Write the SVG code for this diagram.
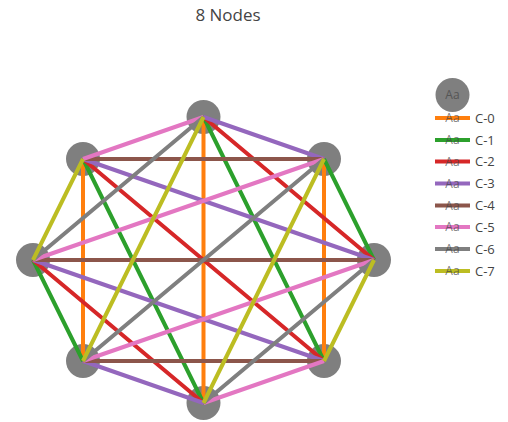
<svg xmlns="http://www.w3.org/2000/svg" width="508" height="422" viewBox="0 0 508 422">
<style>
.e{stroke-width:4;fill:none;stroke-linecap:butt}
.c0{stroke:#ff7f0e}.c1{stroke:#2ca02c}.c2{stroke:#d62728}.c3{stroke:#9467bd}
.c4{stroke:#8c564b}.c5{stroke:#e377c2}.c6{stroke:#7f7f7f}.c7{stroke:#bcbd22}
.n{fill:#7f7f7f}
.t{font-family:"Open Sans","Liberation Sans",sans-serif;fill:#444}
.lg{font-size:13px}
.aa{font-family:"Open Sans","Liberation Sans",sans-serif;font-size:12px;fill:#444;opacity:0.7;text-anchor:middle}
</style>
<rect width="508" height="422" fill="#fff"/>
<text class="t" x="228" y="21" font-size="17" text-anchor="middle">8 Nodes</text>
<g id="nodes">
<g id="n0"><circle class="n" cx="374" cy="260" r="17"/></g>
<g id="n1"><circle class="n" cx="324" cy="159" r="17"/></g>
<g id="n2"><circle class="n" cx="203.5" cy="117" r="17"/></g>
<g id="n3"><circle class="n" cx="83" cy="159" r="17"/></g>
<g id="n4"><circle class="n" cx="33" cy="260" r="17"/></g>
<g id="n5"><circle class="n" cx="83" cy="361" r="17"/></g>
<g id="n6"><circle class="n" cx="203.5" cy="403" r="17"/></g>
<g id="n7"><circle class="n" cx="324" cy="361" r="17"/></g>
</g>
<g id="connectors">
<path class="e c0" d="M203.5 117L203.5 403M83 159L83 361M324 159L324 361"/>
<path class="e c1" d="M324 159L374 260M33 260L83 361M203.5 117L324 361M83 159L203.5 403"/>
<path class="e c2" d="M203.5 117L374 260M83 159L324 361M33 260L203.5 403"/>
<path class="e c3" d="M203.5 117L324 159M83 361L203.5 403M83 159L374 260M33 260L324 361"/>
<path class="e c4" d="M33 260L374 260M83 159L324 159M83 361L324 361"/>
<path class="e c5" d="M203.5 117L83 159M324 361L203.5 403M324 159L33 260M374 260L83 361"/>
<path class="e c6" d="M203.5 117L33 260M324 159L83 361M374 260L203.5 403"/>
<path class="e c7" d="M83 159L33 260M374 260L324 361M203.5 117L83 361M324 159L203.5 403"/>
</g>
<g id="legend">
<circle class="n" cx="452.5" cy="95" r="17"/>
<text class="aa" x="452.5" y="99">Aa</text>
<line class="e c0" x1="435" y1="118" x2="470" y2="118"/><text class="aa" x="452.5" y="122">Aa</text><text class="t lg" x="475" y="122.5">C-0</text>
<line class="e c1" x1="435" y1="140" x2="470" y2="140"/><text class="aa" x="452.5" y="144">Aa</text><text class="t lg" x="475" y="144.5">C-1</text>
<line class="e c2" x1="435" y1="161.5" x2="470" y2="161.5"/><text class="aa" x="452.5" y="165.5">Aa</text><text class="t lg" x="475" y="166">C-2</text>
<line class="e c3" x1="435" y1="183.5" x2="470" y2="183.5"/><text class="aa" x="452.5" y="187.5">Aa</text><text class="t lg" x="475" y="188">C-3</text>
<line class="e c4" x1="435" y1="205.5" x2="470" y2="205.5"/><text class="aa" x="452.5" y="209.5">Aa</text><text class="t lg" x="475" y="210">C-4</text>
<line class="e c5" x1="435" y1="227" x2="470" y2="227"/><text class="aa" x="452.5" y="231">Aa</text><text class="t lg" x="475" y="231.5">C-5</text>
<line class="e c6" x1="435" y1="249" x2="470" y2="249"/><text class="aa" x="452.5" y="253">Aa</text><text class="t lg" x="475" y="253.5">C-6</text>
<line class="e c7" x1="435" y1="271" x2="470" y2="271"/><text class="aa" x="452.5" y="275">Aa</text><text class="t lg" x="475" y="275.5">C-7</text>
</g>
</svg>
